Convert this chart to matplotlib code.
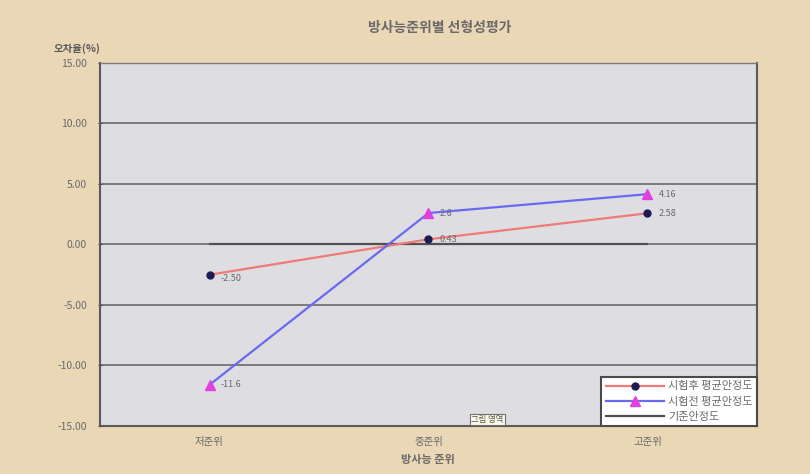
import matplotlib
matplotlib.use("Agg")
import matplotlib.pyplot as plt
import numpy as np

plt.rcParams['font.family'] = ['Noto Sans CJK KR', 'DejaVu Sans']

categories = ['저준위', '중준위', '고준위']
after_vals = [-2.50, 0.43, 2.58]
before_vals = [-11.6, 2.6, 4.16]
ref_vals = [0.0, 0.0, 0.0]
after_labels = ['-2.50', '0.43', '2.58']
before_labels = ['-11.6', '2.6', '4.16']
series_names = ['시험후 평균안정도', '시험전 평균안정도', '기준안정도']
yticks = [-15, -10, -5, 0, 5, 10, 15]

fig = plt.figure(figsize=(8.1, 4.74), dpi=100)
fig.patch.set_facecolor('#ead7b6')
ax = fig.add_axes([0.1235, 0.1013, 0.811, 0.7658])
ax.set_facecolor('#dedde2')

x = np.arange(len(categories))
for yv in yticks[1:-1]:
    ax.axhline(yv, color='#6a6a6a', lw=1.2, zorder=1)

l1, = ax.plot(x, after_vals, color='#f07a78', lw=1.6, marker='o', ms=5,
              mfc='#1c1c55', mec='#1c1c55', zorder=4)
l2, = ax.plot(x, before_vals, color='#6a6af0', lw=1.6, marker='^', ms=7,
              mfc='#e040e0', mec='#e040e0', zorder=4)
l3, = ax.plot(x, ref_vals, color='#505050', lw=1.6, zorder=3)

for xi, v, t in zip(x, after_vals, after_labels):
    ax.annotate(t, (xi, v), xytext=(8, -3 if xi == 0 else 0), textcoords='offset points',
                fontsize=6.5, color='#6a6a6a', va='center', ha='left', zorder=5)
for xi, v, t in zip(x, before_vals, before_labels):
    ax.annotate(t, (xi, v), xytext=(8, 0), textcoords='offset points',
                fontsize=6.5, color='#6a6a6a', va='center', ha='left', zorder=5)

ax.set_xlim(-0.5, 2.5)
ax.set_ylim(-15, 15)
ax.set_yticks(yticks)
ax.set_yticklabels([f'{v:.2f}' for v in yticks], fontsize=7.5, color='#6a6a6a')
ax.set_xticks(x)
ax.set_xticklabels(categories, fontsize=7.5, color='#6a6a6a')
ax.tick_params(axis='y', length=3, direction='inout', color='#404040', pad=8)
ax.tick_params(axis='x', length=0, pad=8)
for s in ax.spines.values():
    s.set_color('#5a5a5a')
    s.set_linewidth(1.5)
ax.spines['top'].set_color('#7a7a7a')
ax.spines['top'].set_linewidth(1.0)

fig.text(0.543, 0.94, '방사능준위별 선형성평가', ha='center', va='center',
         fontsize=10, fontweight='bold', color='#6a6a6a')
fig.text(0.095, 0.898, '오차율(%)', ha='center', va='center',
         fontsize=7.5, fontweight='bold', color='#5a5a5a')
fig.text(0.528, 0.03, '방사능 준위', ha='center', va='center',
         fontsize=8, fontweight='bold', color='#6a6a6a')

leg = ax.legend([l1, l2, l3], series_names, loc='lower right',
                bbox_to_anchor=(1.0, 0.0), fontsize=8, frameon=True,
                fancybox=False, edgecolor='#4a4a4a', facecolor='white',
                framealpha=1, borderpad=0.4, labelspacing=0.45,
                handlelength=5.2, handletextpad=0.4, borderaxespad=0.0)
leg.get_frame().set_linewidth(1.5)
for t in leg.get_texts():
    t.set_color('#6a6a6a')

ax.text(1.27, -14.45, '그림 영역', fontsize=6, ha='center', va='center',
        color='#555555', zorder=6,
        bbox=dict(boxstyle='square,pad=0.15', fc='#fbfbe6', ec='#707070', lw=0.8))

fig.savefig('out.png', dpi=100, facecolor=fig.get_facecolor())
